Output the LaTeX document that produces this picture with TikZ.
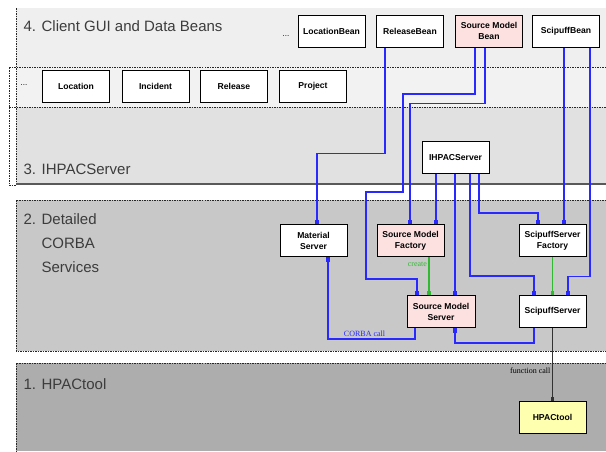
\documentclass[tikz,border=0pt]{standalone}
\usepackage{fontspec}
\setmainfont{Liberation Sans}
\newfontfamily\serifcall{Liberation Serif}
\usetikzlibrary{arrows.meta}

\definecolor{wireblue}{RGB}{40,40,255}
\definecolor{wiregreen}{RGB}{50,185,50}
\definecolor{wiregray}{RGB}{50,50,50}
\definecolor{beanpink}{RGB}{253,225,225}
\definecolor{toolyellow}{RGB}{255,255,176}
\definecolor{layerfour}{RGB}{239,239,239}
\definecolor{layerrow}{RGB}{242,242,242}
\definecolor{layerthree}{RGB}{225,225,225}
\definecolor{layertwo}{RGB}{200,200,200}
\definecolor{layerone}{RGB}{173,173,173}
\definecolor{layertext}{RGB}{60,60,60}

\begin{document}
\begin{tikzpicture}
  [
    x = 1pt, y = -1pt,
    every node/.style = {font = \fontsize{8.6}{11}\selectfont\bfseries},
    box/.style = {draw, rectangle, fill = white, line width = 1pt, align = center, minimum width = 67pt, minimum height = 32pt, inner sep = 1pt},
    layerlbl/.style = {anchor = west, text = layertext, align = left, font = \fontsize{15}{24}\selectfont},
    edge/.style = {line width = 0.7pt, black!85, dash pattern = on 1.5pt off 1pt},
    tip/.style = {-{Rectangle[length = 4.5pt, width = 3.5pt]}},
    wire/.style = {wireblue, line width = 1.2pt, tip},
    callwire/.style = {wiregreen, line width = 1.2pt, tip},
    calllbl/.style = {font = \serifcall\fontsize{8}{10}\selectfont, inner sep = 1.5pt}
  ]
    \useasboundingbox (0,0) rectangle (606,451);
    % layers
    \fill [layerfour] (16,8) rectangle (606,67);
    \fill [layerrow] (16,67) rectangle (606,107);
    \fill [layerthree] (16,107) rectangle (606,184);
    \fill [layertwo] (16,200) rectangle (606,351);
    \fill [layerone] (16,363) rectangle (606,451);
    \draw [edge] (16,8) -- (16,185);
    \draw [edge] (606,67) -- (9,67) -- (9,185) -- (16,185);
    \draw [edge] (9,107) -- (606,107);
    \draw [line width = 1.8pt, black!65] (16,184) -- (606,184);
    \draw [edge] (606,200) -- (16,200) -- (16,351) -- (606,351);
    \draw [edge] (606,363) -- (16,363) -- (16,451);
    \node (l4) [layerlbl] at (20,26) {4. Client GUI and Data Beans};
    \node (l3) [layerlbl] at (20,169) {3. IHPACServer};
    \node (l2) [layerlbl, anchor = north west] at (20,210) {2. Detailed\\\hphantom{2. }CORBA\\\hphantom{2. }Services};
    \node (l1) [layerlbl] at (20,384) {1. HPACtool};
    % beans
    \node (dotsa) [font = \fontsize{8}{10}\selectfont] at (286,36) {...};
    \node (lbean) [box] at (331.5,31) {LocationBean};
    \node (rbean) [box] at (410,31) {ReleaseBean};
    \node (sbean) [box, fill = beanpink] at (489,31) {Source Model\\Bean};
    \node (pbean) [box] at (566,31) {ScipuffBean};
    \node (dotsb) [font = \fontsize{8}{10}\selectfont] at (24,85) {...};
    \node (loc) [box] at (76,86) {Location};
    \node (inc) [box] at (155.5,86) {Incident};
    \node (rel) [box] at (234,86) {Release};
    \node (prj) [box] at (313,86) {Project};
    % servers
    \node (ihpac) [box] at (455.5,157.5) {IHPACServer};
    \node (mat) [box] at (313.5,240.5) {Material\\Server};
    \node (smf) [box, fill = beanpink] at (410.5,240.5) {Source Model\\Factory};
    \node (ssf) [box] at (552.5,240.5) {ScipuffServer\\Factory};
    \node (sms) [box, fill = beanpink, minimum width = 68pt] at (441,311.5) {Source Model\\Server};
    \node (ss) [box] at (552.5,311.5) {ScipuffServer};
    \node (hpac) [box, fill = toolyellow] at (552.5,417.5) {HPACtool};
    % connections
    \draw [wire] ([xshift = -25pt]rbean.south) -- ++(0,106) -| ([xshift = 3.5pt]mat.north);
    \draw [wire] ([xshift = -14pt]sbean.south) |- (403,94) |- (366,192) |- (417,279) -- ([xshift = -24pt]sms.north);
    \draw [wire] ([xshift = -4pt]sbean.south) -- ++(0,56) -| ([xshift = -0.5pt]smf.north);
    \draw [wire] ([xshift = -19.5pt]ihpac.south) -- ([xshift = 25.5pt]smf.north);
    \draw [wire] ([xshift = -0.5pt]ihpac.south) -- ([xshift = 14pt]sms.north);
    \draw [wire] ([xshift = 14.5pt]ihpac.south) -- ++(0,102) -| ([xshift = -18.5pt]ss.north);
    \draw [wire] ([xshift = 23.5pt]ihpac.south) -- ++(0,39) -| ([xshift = -14.5pt]ssf.north);
    \draw [wire] ([xshift = -2pt]pbean.south) -- ([xshift = 11.5pt]ssf.north);
    \draw [wire] ([xshift = 24pt]pbean.south) -- ++(0,229) -| ([xshift = 15.5pt]ss.north);
    \draw [wire] ([xshift = -26pt]sms.south) -- ++(0,11) -| ([xshift = 14.5pt]mat.south)
      node [pos = 0.29, above, calllbl, text = wireblue] {CORBA call};
    \draw [wire] ([xshift = -18.5pt]ss.south) -- ++(0,15) -| ([xshift = 14pt]sms.south);
    \draw [callwire] ([xshift = 18.5pt]smf.south) -- ([xshift = -12pt]sms.north)
      node [pos = 0.2, left, calllbl, text = wiregreen] {create};
    \draw [callwire] (ssf.south) -- (ss.north);
    \draw [wiregray, line width = 1.2pt, tip] (ss.south) -- (hpac.north)
      node [pos = 0.59, left, calllbl, text = black] {function call};
\end{tikzpicture}
\end{document}
